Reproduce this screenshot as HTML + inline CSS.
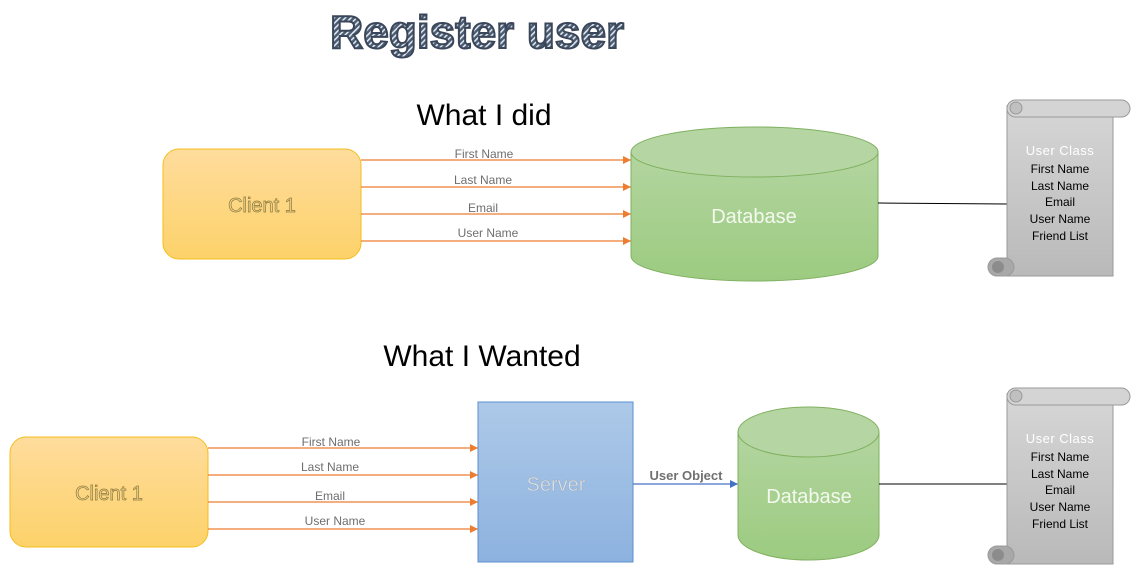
<!DOCTYPE html>
<html><head><meta charset="utf-8"><style>
html,body{margin:0;padding:0;background:#fff;width:1140px;height:576px;overflow:hidden}
text{font-family:"Liberation Sans",sans-serif}
</style></head><body>
<svg width="1140" height="576" viewBox="0 0 1140 576" xmlns="http://www.w3.org/2000/svg">
<defs>
<pattern id="st" width="4" height="4" patternUnits="userSpaceOnUse" patternTransform="rotate(45)">
<rect width="4" height="4" fill="#4a5a70"/><rect width="1.6" height="4" fill="#dfe6ee"/>
</pattern>
<linearGradient id="yel" x1="0" y1="0" x2="0" y2="1"><stop offset="0" stop-color="#fedc9c"/><stop offset="1" stop-color="#fdd26a"/></linearGradient>
<linearGradient id="grn" x1="0" y1="0" x2="0" y2="1"><stop offset="0" stop-color="#b3d5a0"/><stop offset="1" stop-color="#9ccb80"/></linearGradient>
<linearGradient id="blu" x1="0" y1="0" x2="0" y2="1"><stop offset="0" stop-color="#adc9e8"/><stop offset="1" stop-color="#8db2df"/></linearGradient>
<linearGradient id="gry" x1="0" y1="0" x2="0" y2="1"><stop offset="0" stop-color="#d6d6d6"/><stop offset="1" stop-color="#b9b9b9"/></linearGradient>
<marker id="ao" markerWidth="8" markerHeight="8" refX="8" refY="4" orient="auto" markerUnits="userSpaceOnUse"><path d="M0,0 L8,4 L0,8Z" fill="#ed7d31"/></marker>
<marker id="ab" markerWidth="8" markerHeight="8" refX="8" refY="4" orient="auto" markerUnits="userSpaceOnUse"><path d="M0,0 L8,4 L0,8Z" fill="#4472c4"/></marker>
<g id="scroll">
<rect x="1007" y="106" width="106" height="170" fill="url(#gry)" stroke="#9a9a9a"/>
<rect x="1007" y="100" width="123" height="17" rx="8.5" fill="#d4d4d4" stroke="#9a9a9a"/>
<circle cx="1016" cy="108" r="6" fill="#c0c0c0" stroke="#9a9a9a"/>
<rect x="988" y="258" width="26" height="18" rx="9" fill="#a8a8a8" stroke="#9a9a9a"/>
<circle cx="998" cy="267" r="6" fill="#8c8c8c"/>
<text x="1060" y="155" text-anchor="middle" font-size="13" fill="#fff" letter-spacing="0.5">User Class</text>
<g font-size="12" fill="#000" text-anchor="middle">
<text x="1060" y="173">First Name</text><text x="1060" y="190">Last Name</text><text x="1060" y="206">Email</text><text x="1060" y="223">User Name</text><text x="1060" y="240">Friend List</text></g>
</g>
</defs>

<text x="477" y="48" text-anchor="middle" font-size="46" font-weight="bold" fill="url(#st)" stroke="#3a465a" stroke-width="2">Register user</text>

<text x="484" y="125" text-anchor="middle" font-size="30" fill="#000">What I did</text>
<text x="482" y="366" text-anchor="middle" font-size="30" fill="#000">What I Wanted</text>

<!-- top -->
<rect x="163" y="149" width="198" height="110" rx="16" fill="url(#yel)" stroke="#f5bd1c"/>
<text x="262" y="212" text-anchor="middle" font-size="20" fill="#f5d68a" stroke="#8f7a3c" stroke-width="0.7">Client 1</text>
<g stroke="#ed7d31" stroke-width="1.3" marker-end="url(#ao)">
<line x1="361" y1="160" x2="631" y2="160"/><line x1="361" y1="187" x2="631" y2="187"/><line x1="361" y1="214" x2="631" y2="214"/><line x1="361" y1="241" x2="631" y2="241"/></g>
<g font-size="12" fill="#6e6e6e" text-anchor="middle">
<text x="484" y="158">First Name</text><text x="483" y="184">Last Name</text><text x="483" y="212">Email</text><text x="488" y="237">User Name</text></g>
<path d="M631,152 L631,256 A123.5,25 0 0 0 878,256 L878,152" fill="url(#grn)" stroke="#7fb05f"/>
<ellipse cx="754.5" cy="152" rx="123.5" ry="25" fill="#b5d6a2" stroke="#7fb05f"/>
<text x="754" y="223" text-anchor="middle" font-size="20" fill="#f4f9f0" font-family="DejaVu Sans">Database</text>
<line x1="878" y1="203" x2="1007" y2="204" stroke="#000"/>
<use href="#scroll"/>

<!-- bottom -->
<rect x="10" y="437" width="198" height="110" rx="16" fill="url(#yel)" stroke="#f5bd1c"/>
<text x="109" y="500" text-anchor="middle" font-size="20" fill="#f5d68a" stroke="#8f7a3c" stroke-width="0.7">Client 1</text>
<g stroke="#ed7d31" stroke-width="1.3" marker-end="url(#ao)">
<line x1="208" y1="448" x2="478" y2="448"/><line x1="208" y1="475" x2="478" y2="475"/><line x1="208" y1="502" x2="478" y2="502"/><line x1="208" y1="529" x2="478" y2="529"/></g>
<g font-size="12" fill="#6e6e6e" text-anchor="middle">
<text x="331" y="446">First Name</text><text x="330" y="471">Last Name</text><text x="330" y="500">Email</text><text x="335" y="525">User Name</text></g>
<rect x="478" y="402" width="155" height="160" fill="url(#blu)" stroke="#5b8fd0"/>
<text x="556" y="491" text-anchor="middle" font-size="20" fill="#d8e2ee" stroke="#9aa8b8" stroke-width="0.4">Server</text>
<line x1="633" y1="484" x2="738" y2="484" stroke="#4472c4" stroke-width="1.3" marker-end="url(#ab)"/>
<text x="686" y="480" text-anchor="middle" font-size="13" font-weight="bold" fill="#707070">User Object</text>
<path d="M738,432 L738,535 A70.5,25 0 0 0 879,535 L879,432" fill="url(#grn)" stroke="#7fb05f"/>
<ellipse cx="808.5" cy="432" rx="70.5" ry="25" fill="#b5d6a2" stroke="#7fb05f"/>
<text x="809" y="503" text-anchor="middle" font-size="20" fill="#f4f9f0" font-family="DejaVu Sans">Database</text>
<line x1="879" y1="484" x2="1007" y2="484" stroke="#000"/>
<use href="#scroll" transform="translate(0,288)"/>
</svg>
</body></html>
